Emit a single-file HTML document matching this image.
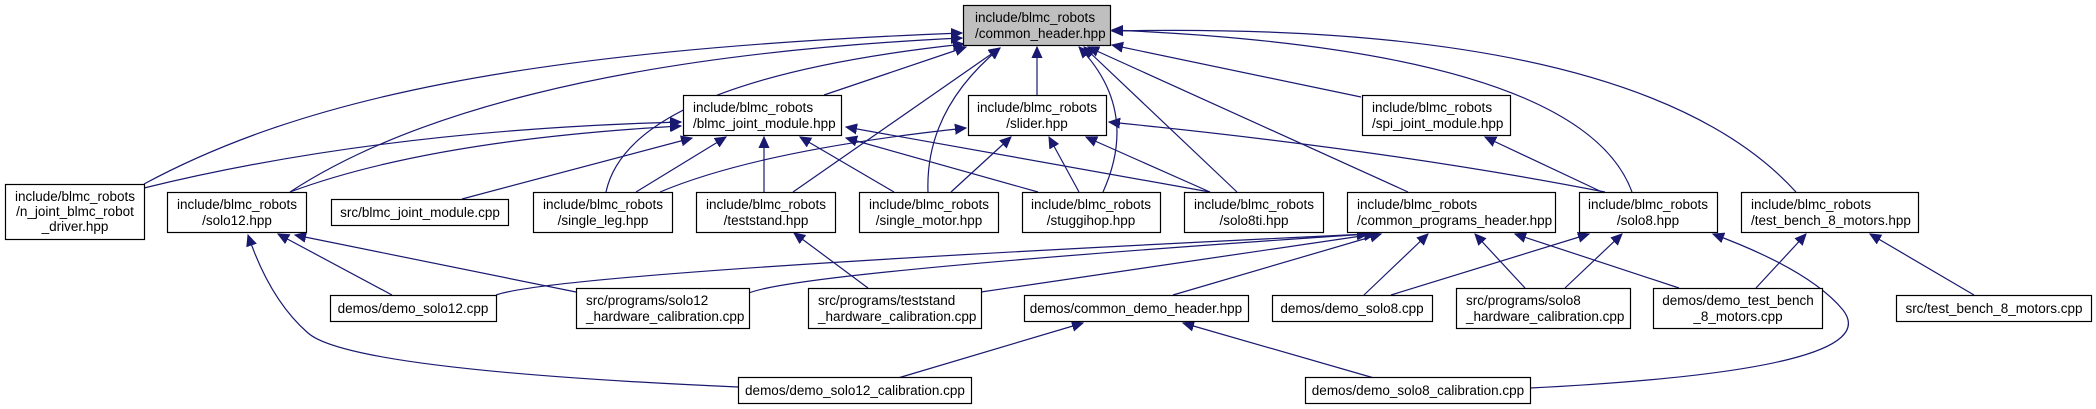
<!DOCTYPE html>
<html><head><meta charset="utf-8"><style>
html,body{margin:0;padding:0;background:#fff;}
svg{display:block;}
text{font-family:"Liberation Sans",Arial,sans-serif;font-size:13.5px;fill:#000;}
.e{fill:none;stroke:#191970;stroke-width:1.2;}
.b{fill:#fff;stroke:#000;stroke-width:1.2;}
</style></head><body>
<svg width="2096" height="409" viewBox="0 0 2096 409" xmlns="http://www.w3.org/2000/svg">
<defs>
<marker id="a" markerUnits="userSpaceOnUse" markerWidth="12" markerHeight="12" viewBox="0 0 12 12" refX="11" refY="6" orient="auto">
<path d="M0,1 L11,6 L0,11 z" fill="#191970" stroke="#191970"/>
</marker>
</defs>
<g class="e" marker-end="url(#a)">
<path d="M144,184 C300,100 520,50 962,33"/>
<path d="M290,192 C400,120 600,55 962,38"/>
<path d="M606,192 Q630,80 964,44"/>
<path d="M824,95 L966,47"/>
<path d="M793,192 L1000,48"/>
<path d="M928,192 Q925,110 1000,48"/>
<path d="M1037,95 L1037,47"/>
<path d="M1103,192 Q1140,110 1079,47"/>
<path d="M1237,192 L1084,47"/>
<path d="M1408,192 L1088,47"/>
<path d="M1361,97 L1112,45"/>
<path d="M1632,192 Q1580,50 1112,30"/>
<path d="M1796,192 Q1640,20 1112,31"/>
<path d="M144,188 Q380,130 681,122"/>
<path d="M290,192 Q430,140 681,126"/>
<path d="M462,199 L692,138"/>
<path d="M636,192 L726,137"/>
<path d="M764,192 L764,137"/>
<path d="M894,192 L800,137"/>
<path d="M1038,192 L846,138"/>
<path d="M1210,192 L846,127"/>
<path d="M660,192 Q760,150 966,128"/>
<path d="M951,192 L1011,137"/>
<path d="M1079,192 L1049,137"/>
<path d="M1210,192 L1086,137"/>
<path d="M1605,192 Q1390,150 1109,122"/>
<path d="M1602,192 L1485,137"/>
<path d="M868,288 L794,233"/>
<path d="M392,295 L278,234"/>
<path d="M576,292 L295,235"/>
<path d="M738,387 Q350,370 308,333 Q270,300 248,235"/>
<path d="M496,295 Q560,272 1368,234"/>
<path d="M749,293 Q800,272 1368,234"/>
<path d="M981,292 L1375,234"/>
<path d="M1173,295 L1381,234"/>
<path d="M1364,295 L1428,234"/>
<path d="M1525,288 L1475,234"/>
<path d="M1679,288 L1515,234"/>
<path d="M1391,295 L1589,234"/>
<path d="M1565,288 L1622,234"/>
<path d="M1530,388 Q1890,370 1843,310 Q1810,270 1713,234"/>
<path d="M1756,288 L1806,234"/>
<path d="M1974,295 L1870,234"/>
<path d="M898,378 L1083,323"/>
<path d="M1374,378 L1183,323"/>
</g>
<rect x="963.5" y="5.5" width="147" height="40" fill="#bfbfbf" stroke="#000" stroke-width="1.2"/>
<text x="975" y="22">include/blmc_robots</text><text x="975" y="38">/common_header.hpp</text>

<rect class="b" x="683.5" y="95.5" width="158" height="40"/>
<text x="693" y="112">include/blmc_robots</text><text x="693" y="128">/blmc_joint_module.hpp</text>
<rect class="b" x="968.5" y="95.5" width="138" height="40"/>
<text x="1037" y="112" text-anchor="middle">include/blmc_robots</text><text x="1037" y="128" text-anchor="middle">/slider.hpp</text>
<rect class="b" x="1362.5" y="95.5" width="148" height="40"/>
<text x="1372" y="112">include/blmc_robots</text><text x="1372" y="128">/spi_joint_module.hpp</text>

<rect class="b" x="5.5" y="184.5" width="139" height="55"/>
<text x="75" y="201" text-anchor="middle">include/blmc_robots</text><text x="75" y="216" text-anchor="middle">/n_joint_blmc_robot</text><text x="75" y="231" text-anchor="middle">_driver.hpp</text>
<rect class="b" x="167.5" y="192.5" width="139" height="40"/>
<text x="237" y="209" text-anchor="middle">include/blmc_robots</text><text x="237" y="225" text-anchor="middle">/solo12.hpp</text>
<rect class="b" x="331.5" y="199.5" width="177" height="26"/>
<text x="420" y="217" text-anchor="middle">src/blmc_joint_module.cpp</text>
<rect class="b" x="533.5" y="192.5" width="139" height="40"/>
<text x="603" y="209" text-anchor="middle">include/blmc_robots</text><text x="603" y="225" text-anchor="middle">/single_leg.hpp</text>
<rect class="b" x="696.5" y="192.5" width="139" height="40"/>
<text x="766" y="209" text-anchor="middle">include/blmc_robots</text><text x="766" y="225" text-anchor="middle">/teststand.hpp</text>
<rect class="b" x="859.5" y="192.5" width="139" height="40"/>
<text x="929" y="209" text-anchor="middle">include/blmc_robots</text><text x="929" y="225" text-anchor="middle">/single_motor.hpp</text>
<rect class="b" x="1022.5" y="192.5" width="138" height="40"/>
<text x="1091" y="209" text-anchor="middle">include/blmc_robots</text><text x="1091" y="225" text-anchor="middle">/stuggihop.hpp</text>
<rect class="b" x="1184.5" y="192.5" width="139" height="40"/>
<text x="1254" y="209" text-anchor="middle">include/blmc_robots</text><text x="1254" y="225" text-anchor="middle">/solo8ti.hpp</text>
<rect class="b" x="1347.5" y="192.5" width="208" height="40"/>
<text x="1357" y="209">include/blmc_robots</text><text x="1357" y="225">/common_programs_header.hpp</text>
<rect class="b" x="1579.5" y="192.5" width="138" height="40"/>
<text x="1648" y="209" text-anchor="middle">include/blmc_robots</text><text x="1648" y="225" text-anchor="middle">/solo8.hpp</text>
<rect class="b" x="1741.5" y="192.5" width="177" height="40"/>
<text x="1751" y="209">include/blmc_robots</text><text x="1751" y="225">/test_bench_8_motors.hpp</text>

<rect class="b" x="330.5" y="295.5" width="166" height="26"/>
<text x="413" y="313" text-anchor="middle">demos/demo_solo12.cpp</text>
<rect class="b" x="576.5" y="288.5" width="173" height="40"/>
<text x="586" y="305">src/programs/solo12</text><text x="586" y="321">_hardware_calibration.cpp</text>
<rect class="b" x="808.5" y="288.5" width="173" height="40"/>
<text x="818" y="305">src/programs/teststand</text><text x="818" y="321">_hardware_calibration.cpp</text>
<rect class="b" x="1024.5" y="295.5" width="224" height="26"/>
<text x="1136" y="313" text-anchor="middle">demos/common_demo_header.hpp</text>
<rect class="b" x="1272.5" y="295.5" width="160" height="26"/>
<text x="1352" y="313" text-anchor="middle">demos/demo_solo8.cpp</text>
<rect class="b" x="1456.5" y="288.5" width="174" height="40"/>
<text x="1466" y="305">src/programs/solo8</text><text x="1466" y="321">_hardware_calibration.cpp</text>
<rect class="b" x="1653.5" y="288.5" width="169" height="40"/>
<text x="1738" y="305" text-anchor="middle">demos/demo_test_bench</text><text x="1738" y="321" text-anchor="middle">_8_motors.cpp</text>
<rect class="b" x="1896.5" y="295.5" width="195" height="26"/>
<text x="1994" y="313" text-anchor="middle">src/test_bench_8_motors.cpp</text>

<rect class="b" x="738.5" y="377.5" width="233" height="26"/>
<text x="855" y="395" text-anchor="middle">demos/demo_solo12_calibration.cpp</text>
<rect class="b" x="1305.5" y="377.5" width="225" height="26"/>
<text x="1418" y="395" text-anchor="middle">demos/demo_solo8_calibration.cpp</text>
</svg>
</body></html>
